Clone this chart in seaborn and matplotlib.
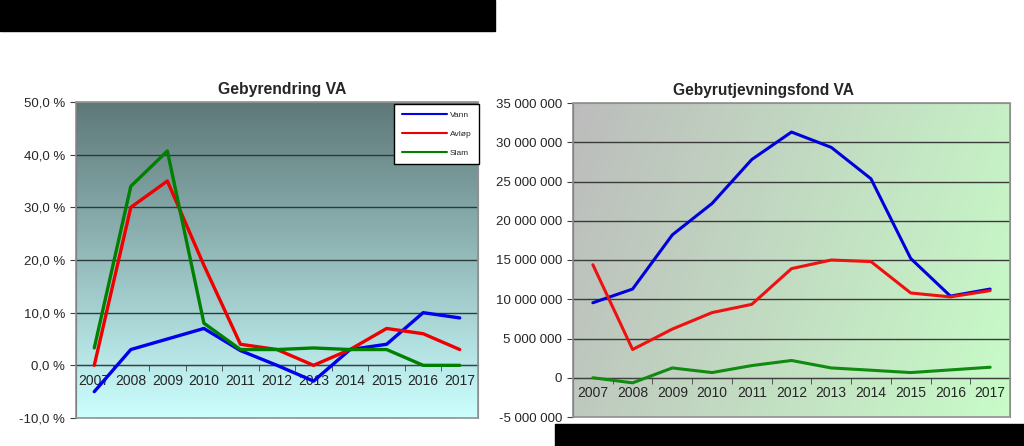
import numpy as np
import pandas as pd
import matplotlib
matplotlib.use('Agg')
import matplotlib.pyplot as plt
import seaborn as sns
from matplotlib.patches import Rectangle
from matplotlib.ticker import FuncFormatter, FixedLocator

years = [2007, 2008, 2009, 2010, 2011, 2012, 2013, 2014, 2015, 2016, 2017]
series_names = ['Vann', 'Avløp', 'Slam']

# Gebyrendring VA, prosent
gebyr_vann = [-5.0, 3.0, 5.0, 7.0, 2.8, 0.0, -3.0, 3.0, 4.0, 10.0, 9.0]
gebyr_avlop = [0.0, 30.0, 35.0, 19.0, 4.0, 3.0, 0.0, 3.0, 7.0, 6.0, 3.0]
gebyr_slam = [3.3, 34.0, 40.7, 8.0, 3.0, 3.0, 3.3, 3.0, 3.0, 0.0, 0.0]

# Gebyrutjevningsfond VA, kroner
fond_vann = [9550000, 11300000, 18200000, 22200000, 27800000, 31300000,
             29350000, 25350000, 15200000, 10400000, 11300000]
fond_avlop = [14400000, 3600000, 6200000, 8300000, 9350000, 13900000,
              15000000, 14800000, 10800000, 10300000, 11100000]
fond_slam = [0, -650000, 1250000, 660000, 1550000, 2200000,
             1250000, 960000, 660000, 1000000, 1340000]

sns.set_style('white')
plt.rcParams['font.family'] = ['Liberation Sans', 'DejaVu Sans']

W, H = 1024, 446
fig = plt.figure(figsize=(W / 100, H / 100), dpi=100)
fig.patch.set_facecolor('white')


def long_frame(a, b, c):
    rows = []
    for name, vals in zip(series_names, [a, b, c]):
        for i, v in enumerate(vals):
            rows.append({'pos': i, 'serie': name, 'verdi': v})
    return pd.DataFrame(rows)


def gradient(ax, c0, c1, ymin, ymax, diagonal=False):
    # c0 oppe (til venstre), c1 nede (til høyre)
    c0 = np.array(matplotlib.colors.to_rgb(c0))
    c1 = np.array(matplotlib.colors.to_rgb(c1))
    n = 200
    if diagonal:
        xx, yy = np.meshgrid(np.linspace(0, 1, n), np.linspace(0, 1, n))
        t = np.clip(0.8 * xx + 0.2 * yy, 0, 1)
    else:
        t = np.tile(np.linspace(0, 1, n)[:, None], (1, 2))
    img = c0[None, None, :] * (1 - t[..., None]) + c1[None, None, :] * t[..., None]
    ax.imshow(img, extent=[-0.5, len(years) - 0.5, ymin, ymax], aspect='auto',
              zorder=0, origin='upper')


def style_axes(ax, ymin, ymax, step, fmt, gridcolor):
    ax.set_xlim(-0.5, len(years) - 0.5)
    ax.set_ylim(ymin, ymax)
    ax.set_yticks(np.arange(ymin, ymax + step / 2, step))
    ax.yaxis.set_major_formatter(FuncFormatter(fmt))
    for y in np.arange(ymin + step, ymax, step):
        ax.axhline(y, color=gridcolor, lw=1.0, zorder=1)
    ax.spines['bottom'].set_position(('data', 0))
    ax.spines['bottom'].set_color('#404040')
    ax.spines['left'].set_color('#404040')
    ax.spines['top'].set_color('#909090')
    ax.spines['right'].set_color('#909090')
    ax.add_patch(Rectangle((0, 0), 1, 1, transform=ax.transAxes, fill=False,
                           ec='#909090', lw=1.2, zorder=5, clip_on=False))
    ax.set_xticks(range(len(years)))
    ax.set_xticklabels([str(y) for y in years])
    ax.xaxis.set_minor_locator(FixedLocator(np.arange(0.5, len(years) - 1, 1)))
    ax.tick_params(axis='x', which='major', length=0, pad=6, labelsize=10)
    ax.tick_params(axis='x', which='minor', length=4, direction='out',
                   color='#404040', bottom=True)
    ax.tick_params(axis='y', which='major', length=4, direction='out',
                   color='#404040', left=True, labelsize=9.5, pad=4)
    ax.set_xlabel('')
    ax.set_ylabel('')


# venstre: Gebyrendring VA
ax1 = fig.add_axes([76 / W, 28 / H, 402 / W, 316 / H])
gradient(ax1, '#5e7878', '#ccffff', -10, 50)
palette1 = {'Vann': '#0000ee', 'Avløp': '#ee0000', 'Slam': '#008000'}
sns.lineplot(data=long_frame(gebyr_vann, gebyr_avlop, gebyr_slam), x='pos', y='verdi',
             hue='serie', palette=palette1, linewidth=2.4, ax=ax1, zorder=3, legend=True)
style_axes(ax1, -10, 50, 10, lambda v, p: f'{v:.1f} %'.replace('.', ','), '#2a3a3a')
ax1.set_title('Gebyrendring VA', fontsize=11.3, fontweight='bold', pad=6, x=0.512)
leg = ax1.legend(loc='upper right', bbox_to_anchor=(1.003, 0.994), fontsize=6,
                 frameon=True, fancybox=False, edgecolor='black', framealpha=1,
                 handlelength=5.5, labelspacing=1.3, borderpad=0.9, handletextpad=0.3,
                 borderaxespad=0)
for h in leg.get_lines():
    h.set_linewidth(1.5)
leg.get_frame().set_linewidth(1.0)
leg.set_zorder(6)

# høyre: Gebyrutjevningsfond VA
ax2 = fig.add_axes([573 / W, 29 / H, 437 / W, 314 / H])
gradient(ax2, '#bcbcbc', '#c8fcc8', -5e6, 35e6, diagonal=True)
palette2 = {'Vann': '#0000dd', 'Avløp': '#ee1111', 'Slam': '#108a10'}
sns.lineplot(data=long_frame(fond_vann, fond_avlop, fond_slam), x='pos', y='verdi',
             hue='serie', palette=palette2, linewidth=2.2, ax=ax2, zorder=3, legend=False)
style_axes(ax2, -5e6, 35e6, 5e6, lambda v, p: f'{v:,.0f}'.replace(',', ' '), '#3a3a3a')
ax2.set_title('Gebyrutjevningsfond VA', fontsize=11.2, fontweight='bold', pad=6, x=0.435)

# svarte felt
fig.add_artist(Rectangle((0, 1 - 31 / H), 495 / W, 31 / H, transform=fig.transFigure,
                         color='black', zorder=10))
fig.add_artist(Rectangle((555 / W, 0), 469 / W, 22 / H, transform=fig.transFigure,
                         color='black', zorder=10))

fig.savefig('out.png', dpi=100)
